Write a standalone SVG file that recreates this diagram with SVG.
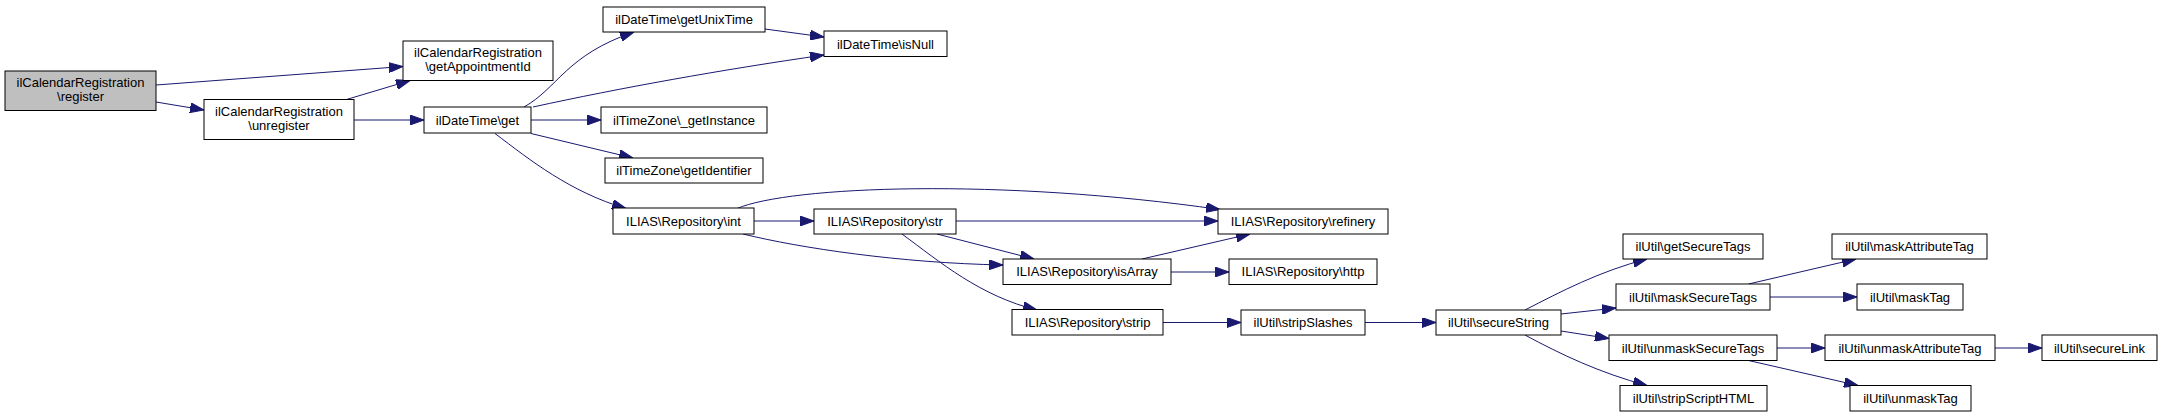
<svg xmlns="http://www.w3.org/2000/svg" width="2163" height="417" viewBox="0 0 2163 417">
<style>
.n rect{fill:#ffffff;stroke:#000000;stroke-width:1}
.n.root rect{fill:#bfbfbf}
.n text{font-family:"Liberation Sans",Arial,Helvetica,sans-serif;font-size:13px;fill:#000000;text-anchor:middle}
.e path{fill:none;stroke:#191970;stroke-width:1;marker-end:url(#ah)}
</style>
<defs>
<marker id="ah" markerUnits="userSpaceOnUse" markerWidth="14" markerHeight="10" viewBox="0 0 13.3 9.4" refX="13.3" refY="4.7" orient="auto">
<path d="M0,0 L13.3,4.7 L0,9.4 Z" fill="#191970" stroke="#191970" stroke-width="1"/>
</marker>
</defs>
<rect width="2163" height="417" fill="#ffffff"/>
<g id="connectors" class="e">
<path d="M156,85 L403,66.5"/>
<path d="M156,102 L204,110"/>
<path d="M346.5,99.5 L410,80.5"/>
<path d="M354,120 L424,120"/>
<path d="M524,107 C558,88 566,55 634,32"/>
<path d="M533,107 C620,88 720,70 824,55"/>
<path d="M765,29 L824,37"/>
<path d="M531,120 L601,120"/>
<path d="M531,133.5 L633,158"/>
<path d="M495,133.5 C530,160 570,192 626,208.5"/>
<path d="M737,208.5 C790,186 1000,178 1220,209.5"/>
<path d="M754,221 L814,221"/>
<path d="M743,234 C800,248 900,263 1003,265"/>
<path d="M956,221 L1218,221"/>
<path d="M937,234 L1034,259"/>
<path d="M902,234 C940,262 980,296 1037,310"/>
<path d="M1142,259 L1250,234"/>
<path d="M1171,272 L1229,272"/>
<path d="M1163,322.5 L1241,322.5"/>
<path d="M1365,322.5 L1436,322.5"/>
<path d="M1525,310 C1560,292 1600,271 1647,259"/>
<path d="M1561,314 L1616,308"/>
<path d="M1561,331 L1609,338.5"/>
<path d="M1525,335 C1560,354 1600,373 1647,385.5"/>
<path d="M1748.5,284 L1856,259"/>
<path d="M1770,297 L1857,297"/>
<path d="M1777,348 L1825,348"/>
<path d="M1748.5,360.5 L1858,385.5"/>
<path d="M1995,348 L2042,348"/>
</g>
<g id="register" class="n root"><rect x="5" y="71" width="151" height="39.5"/><text x="80.5" y="87">ilCalendarRegistration</text><text x="80.5" y="101">\register</text></g>
<g id="getAppointmentId" class="n"><rect x="403" y="41" width="150" height="39.5"/><text x="478" y="57">ilCalendarRegistration</text><text x="478" y="71">\getAppointmentId</text></g>
<g id="unregister" class="n"><rect x="204" y="99.5" width="150" height="40"/><text x="279" y="116">ilCalendarRegistration</text><text x="279" y="130">\unregister</text></g>
<g id="ilDateTime_get" class="n"><rect x="424" y="107" width="107" height="26"/><text x="477.5" y="124.5">ilDateTime\get</text></g>
<g id="getUnixTime" class="n"><rect x="603" y="7" width="162" height="25"/><text x="684" y="24">ilDateTime\getUnixTime</text></g>
<g id="isNull" class="n"><rect x="824" y="31" width="123" height="25.5"/><text x="885.5" y="48.5">ilDateTime\isNull</text></g>
<g id="getInstance" class="n"><rect x="601" y="107" width="166" height="26"/><text x="684" y="124.5">ilTimeZone\_getInstance</text></g>
<g id="getIdentifier" class="n"><rect x="605" y="158" width="158" height="25"/><text x="684" y="175">ilTimeZone\getIdentifier</text></g>
<g id="repo_int" class="n"><rect x="613" y="208" width="141" height="26"/><text x="683.5" y="225.5">ILIAS\Repository\int</text></g>
<g id="repo_str" class="n"><rect x="814" y="209" width="142" height="25"/><text x="885" y="226">ILIAS\Repository\str</text></g>
<g id="repo_refinery" class="n"><rect x="1218" y="209" width="170" height="25"/><text x="1303" y="226">ILIAS\Repository\refinery</text></g>
<g id="repo_isArray" class="n"><rect x="1003" y="259" width="168" height="25.5"/><text x="1087" y="276">ILIAS\Repository\isArray</text></g>
<g id="repo_http" class="n"><rect x="1229" y="259" width="148" height="25.5"/><text x="1303" y="276">ILIAS\Repository\http</text></g>
<g id="repo_strip" class="n"><rect x="1012" y="309.5" width="151" height="25.5"/><text x="1087.5" y="327">ILIAS\Repository\strip</text></g>
<g id="stripSlashes" class="n"><rect x="1241" y="310" width="124" height="25"/><text x="1303" y="327">ilUtil\stripSlashes</text></g>
<g id="secureString" class="n"><rect x="1436" y="310" width="125" height="25"/><text x="1498.5" y="327">ilUtil\secureString</text></g>
<g id="getSecureTags" class="n"><rect x="1623" y="234" width="140" height="25"/><text x="1693" y="251">ilUtil\getSecureTags</text></g>
<g id="maskSecureTags" class="n"><rect x="1616" y="284" width="154" height="26"/><text x="1693" y="301.5">ilUtil\maskSecureTags</text></g>
<g id="unmaskSecureTags" class="n"><rect x="1609" y="335" width="168" height="25.5"/><text x="1693" y="352.5">ilUtil\unmaskSecureTags</text></g>
<g id="stripScriptHTML" class="n"><rect x="1620" y="385.5" width="147" height="25.5"/><text x="1693.5" y="403">ilUtil\stripScriptHTML</text></g>
<g id="maskAttributeTag" class="n"><rect x="1832" y="234" width="155" height="25"/><text x="1909.5" y="251">ilUtil\maskAttributeTag</text></g>
<g id="maskTag" class="n"><rect x="1857" y="284" width="106" height="26"/><text x="1910" y="301.5">ilUtil\maskTag</text></g>
<g id="unmaskAttributeTag" class="n"><rect x="1825" y="335" width="170" height="25.5"/><text x="1910" y="352.5">ilUtil\unmaskAttributeTag</text></g>
<g id="unmaskTag" class="n"><rect x="1850" y="385.5" width="121" height="25.5"/><text x="1910.5" y="403">ilUtil\unmaskTag</text></g>
<g id="secureLink" class="n"><rect x="2042" y="335" width="115" height="25.5"/><text x="2099.5" y="352.5">ilUtil\secureLink</text></g>
</svg>
